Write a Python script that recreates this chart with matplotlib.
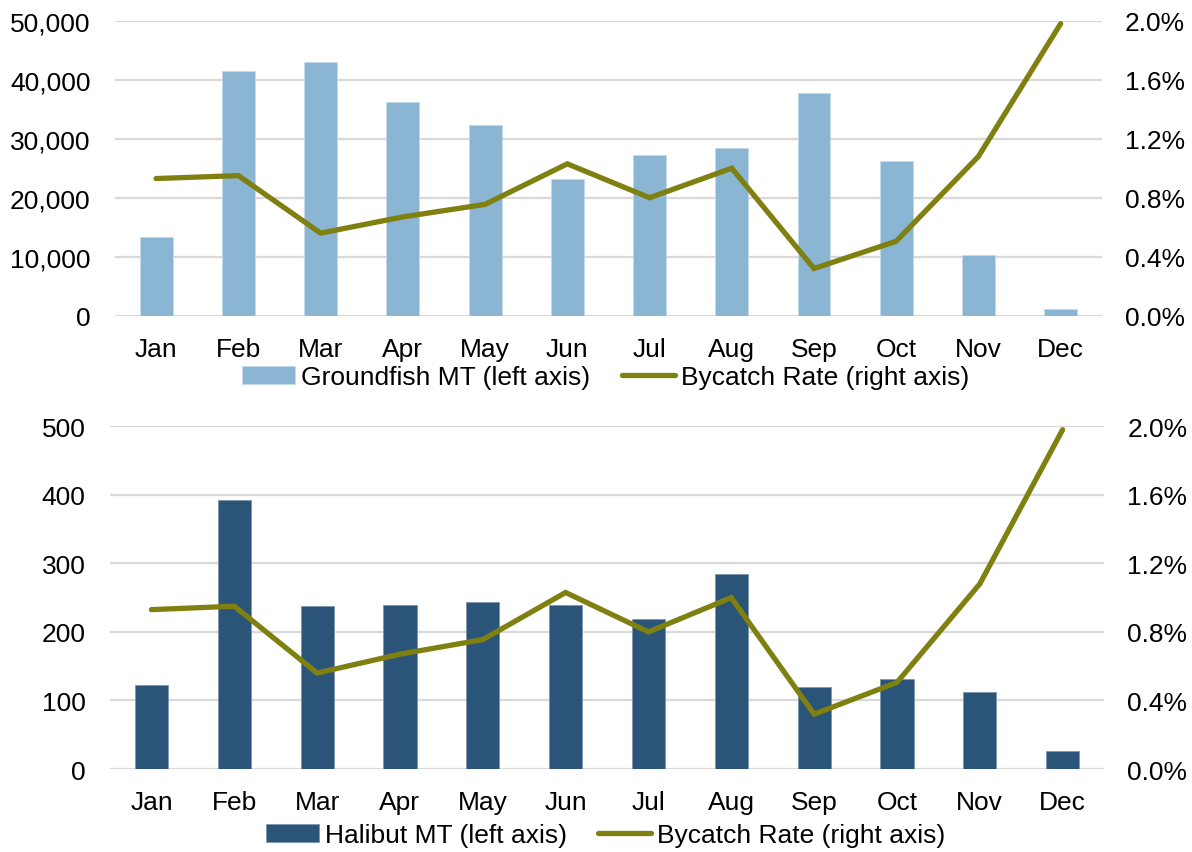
import numpy as np
import matplotlib.pyplot as plt
from matplotlib.ticker import FuncFormatter

plt.rcParams['font.family'] = ['Liberation Sans', 'DejaVu Sans']

months = ["Jan", "Feb", "Mar", "Apr", "May", "Jun", "Jul", "Aug", "Sep", "Oct", "Nov", "Dec"]
groundfish = [13300, 41500, 43000, 36200, 32400, 23200, 27200, 28400, 37800, 26200, 10300, 1200]
halibut = [123, 393, 238, 239, 244, 239, 219, 285, 120, 132, 112, 26]
bycatch_rate = [0.93, 0.95, 0.56, 0.67, 0.755, 1.03, 0.80, 1.00, 0.32, 0.505, 1.08, 1.98]

light_blue = "#8AB6D4"
dark_blue = "#2A5578"
olive = "#7F8010"
grid_c = "#D9D9D9"
fs = 19

fig = plt.figure(figsize=(11.92, 8.53), dpi=100)
ax_top = fig.add_axes([0.0965, 0.6287, 0.8278, 0.3458])
ax_bot = fig.add_axes([0.0923, 0.0973, 0.8339, 0.4018])

x = np.arange(len(months))


def draw_panel(ax, values, bar_color, edge_color, ymax, ystep, fmt, bar_label, leg_y):
    ax.bar(x, values, width=0.40, color=bar_color, edgecolor=edge_color, linewidth=0.6,
           label=bar_label, zorder=2)
    ax.set_xlim(-0.5, 11.5)
    ax.set_ylim(0, ymax)
    ax.set_yticks(np.arange(0, ymax + 1, ystep))
    ax.yaxis.set_major_formatter(FuncFormatter(fmt))
    ax.set_xticks(x)
    ax.set_xticklabels(months)
    ax.grid(axis="y", color=grid_c, linewidth=1.6, zorder=0)
    ax.set_axisbelow(True)
    for s in ax.spines.values():
        s.set_visible(False)
    ax.tick_params(axis="both", length=0, labelsize=fs, colors="black")
    ax.tick_params(axis="y", pad=17.5)
    ax.tick_params(axis="x", pad=15)

    twin = ax.twinx()
    twin.plot(x, bycatch_rate, color=olive, linewidth=3.8, solid_capstyle="round",
              solid_joinstyle="miter", label="Bycatch Rate (right axis)", zorder=3)
    twin.set_ylim(0, 2.0)
    twin.set_yticks(np.arange(0, 2.01, 0.4))
    twin.yaxis.set_major_formatter(FuncFormatter(lambda v, p: f"{v:.1f}%"))
    for s in twin.spines.values():
        s.set_visible(False)
    twin.tick_params(axis="y", length=0, labelsize=fs, pad=16.8)

    h1, l1 = ax.get_legend_handles_labels()
    h2, l2 = twin.get_legend_handles_labels()
    fig.legend(h1 + h2, l1 + l2, loc="center", bbox_to_anchor=(0.508, leg_y), ncol=2,
               frameon=False, fontsize=fs, handlelength=2.0, handletextpad=0.23,
               columnspacing=1.2, borderpad=0, borderaxespad=0)


draw_panel(ax_top, groundfish, light_blue, "#C5D9E8", 50000, 10000,
           lambda v, p: f"{int(v):,}", "Groundfish MT (left axis)", 1 - 378 / 853)
draw_panel(ax_bot, halibut, dark_blue, "#7D97AE", 500, 100,
           lambda v, p: f"{int(v)}", "Halibut MT (left axis)", 1 - 836 / 853)

fig.savefig("out.png", dpi=100)
